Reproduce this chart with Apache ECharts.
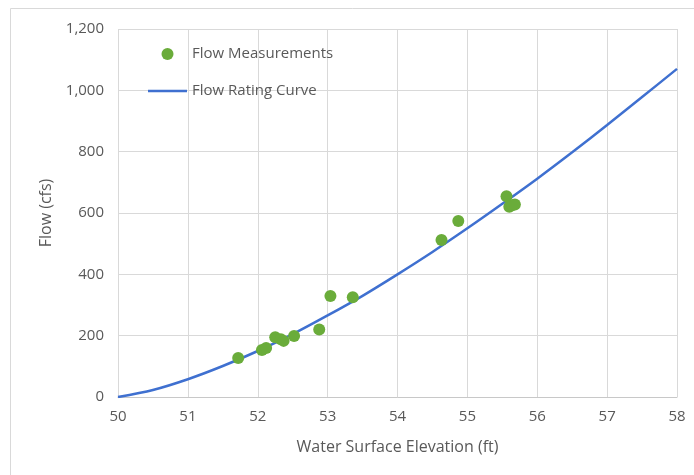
<!DOCTYPE html>
<html>
<head>
<meta charset="utf-8">
<script src="https://cdn.jsdelivr.net/npm/echarts@6/dist/echarts.min.js"></script>
<style>
  html, body { margin: 0; padding: 0; background: #fff; }
  #chart { width: 694px; height: 475px; }
</style>
</head>
<body>
<div id="chart"></div>
<script>
// measured points (elevation ft, flow cfs)
const measElev = [51.72, 52.06, 52.12, 52.25, 52.33, 52.37, 52.52, 52.88, 53.04, 53.36, 54.63, 54.87, 55.56, 55.60, 55.64, 55.68]
const measFlow = [127, 153, 160, 195, 188, 183, 199, 220, 329, 325, 512, 574, 655, 620, 625, 628]

// rating curve
const curveElev = [50, 50.5, 51, 51.5, 52, 52.5, 53, 53.5, 54, 54.5, 55, 55.5, 56, 56.5, 57, 57.5, 58]
const curveFlow = [0, 23, 58, 101, 150, 205, 266, 330, 400, 473, 550, 630, 712, 798, 887, 978, 1070]

const textColor = '#595959'
const gridColor = '#d9d9d9'
const font = 'Open Sans'

const option = {
  animation: false,
  grid: { left: 118, right: 17, top: 29, bottom: 78 },
  graphic: [{
    type: 'rect',
    shape: { x: 10.5, y: 8.5, width: 720, height: 500 },
    style: { fill: 'none', stroke: gridColor, lineWidth: 1 }
  }],
  legend: {
    orient: 'vertical',
    left: 148,
    top: 45,
    padding: 0,
    itemWidth: 39,
    itemHeight: 12,
    itemGap: 19,
    textStyle: { color: textColor, fontFamily: font, fontSize: 15, lineHeight: 18 },
    data: [
      { name: 'Flow Measurements', icon: 'circle' },
      { name: 'Flow Rating Curve', icon: 'path://M0,0L39,0L39,2.5L0,2.5Z' }
    ]
  },
  xAxis: {
    type: 'value',
    min: 50,
    max: 58,
    interval: 1,
    name: 'Water Surface Elevation (ft)',
    nameLocation: 'middle',
    nameGap: 42,
    nameTextStyle: { color: textColor, fontFamily: font, fontSize: 16 },
    axisLine: { show: true, lineStyle: { color: '#c8c8c8', width: 1 } },
    axisTick: { show: false },
    axisLabel: { color: textColor, fontFamily: font, fontSize: 15, margin: 12 },
    splitLine: { show: true, lineStyle: { color: gridColor, width: 1 } }
  },
  yAxis: {
    type: 'value',
    min: 0,
    max: 1200,
    interval: 200,
    name: 'Flow (cfs)',
    nameLocation: 'middle',
    nameGap: 63,
    nameTextStyle: { color: textColor, fontFamily: font, fontSize: 16 },
    axisLine: { show: false },
    axisTick: { show: false },
    axisLabel: { color: textColor, fontFamily: font, fontSize: 15, margin: 14 },
    splitLine: { show: true, lineStyle: { color: gridColor, width: 1 } }
  },
  series: [
    {
      name: 'Flow Measurements',
      type: 'scatter',
      symbol: 'circle',
      symbolSize: 12,
      itemStyle: { color: '#6aac3a', opacity: 1 },
      data: measElev.map((x, i) => [x, measFlow[i]]),
      z: 3
    },
    {
      name: 'Flow Rating Curve',
      type: 'line',
      smooth: 0.3,
      symbol: 'none',
      lineStyle: { color: '#3f70d0', width: 2.5 },
      itemStyle: { color: '#3f70d0' },
      data: curveElev.map((x, i) => [x, curveFlow[i]]),
      z: 2
    }
  ]
}

const myChart = echarts.init(document.getElementById('chart'))
myChart.setOption(option)
</script>
</body>
</html>
